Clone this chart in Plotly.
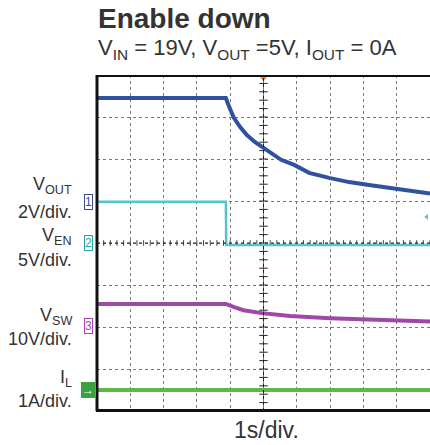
import plotly.graph_objects as go

# time in divisions (1 s/div), values in divisions
vout_t = [0.0, 3.87, 3.95, 4.11, 4.30, 4.50, 4.75, 5.02, 5.25, 5.53, 5.92, 6.37, 6.97, 7.57, 8.17, 8.77, 9.37, 10.0]
vout_v = [3.45, 3.45, 3.28, 2.98, 2.76, 2.57, 2.40, 2.26, 2.12, 1.98, 1.86, 1.67, 1.55, 1.45, 1.38, 1.31, 1.24, 1.18]

ven_t = [0.0, 3.87, 3.88, 10.0]
ven_v = [0.98, 0.98, -0.05, -0.05]

vsw_t = [0.0, 3.87, 4.1, 4.4, 4.95, 5.8, 7.0, 8.5, 10.0]
vsw_v = [-1.45, -1.45, -1.52, -1.60, -1.67, -1.74, -1.79, -1.83, -1.87]

il_t = [0.0, 10.0]
il_v = [-3.5, -3.5]

labels = [("V<sub>OUT</sub>", 185), ("2V/div.", 212), ("V<sub>EN</sub>", 237), ("5V/div.", 260),
          ("V<sub>SW</sub>", 316), ("10V/div.", 339), ("I<sub>L</sub>", 378), ("1A/div.", 401)]

W, H = 430, 445
L, T, B = 97, 75, 411
PW = 333

def px(x):
    return (x - L) / PW

def py(y):
    return (B - y) / (B - T)

fig = go.Figure()

# center crosshair minor ticks
tick_x = [i * 0.2 for i in range(51)]
tick_y = [-4 + i * 0.2 for i in range(41)]
fig.add_trace(go.Scatter(x=[5] * len(tick_y), y=tick_y, mode="markers",
                         marker=dict(symbol="line-ew", size=6, line=dict(color="#222", width=1)),
                         hoverinfo="skip", showlegend=False))
fig.add_trace(go.Scatter(x=tick_x, y=[0] * len(tick_x), mode="markers",
                         marker=dict(symbol="line-ns", size=4, line=dict(color="#444", width=1)),
                         hoverinfo="skip", showlegend=False))

fig.add_trace(go.Scatter(x=il_t, y=il_v, mode="lines", line=dict(color="#5dba3e", width=4), showlegend=False))
fig.add_trace(go.Scatter(x=vsw_t, y=vsw_v, mode="lines", line=dict(color="#a048a8", width=4), showlegend=False))
fig.add_trace(go.Scatter(x=ven_t, y=ven_v, mode="lines", line=dict(color="#55c5cc", width=2.5), showlegend=False))
fig.add_trace(go.Scatter(x=vout_t, y=vout_v, mode="lines", line=dict(color="#2f52a0", width=4), showlegend=False))

# trigger markers
fig.add_trace(go.Scatter(x=[5], y=[3.93], mode="markers", marker=dict(symbol="triangle-down", size=7, color="#f08a3c"),
                         hoverinfo="skip", showlegend=False, cliponaxis=False))
fig.add_trace(go.Scatter(x=[9.9], y=[0.62], mode="markers", marker=dict(symbol="triangle-left", size=5, color="#55c5cc"),
                         hoverinfo="skip", showlegend=False))

shapes = [
    dict(type="line", xref="x", yref="y", x0=5, x1=5, y0=-4, y1=4, line=dict(color="#222", width=1, dash="dot")),
    dict(type="line", xref="x", yref="y", x0=0, x1=10, y0=0, y1=0, line=dict(color="#222", width=1, dash="dot")),
    dict(type="line", xref="paper", yref="paper", x0=px(97), x1=px(97), y0=py(411), y1=py(75), line=dict(color="#111", width=3)),
    dict(type="line", xref="paper", yref="paper", x0=px(96), x1=1.01, y0=py(76), y1=py(76), line=dict(color="#111", width=2)),
    dict(type="line", xref="paper", yref="paper", x0=px(96), x1=1.01, y0=py(410.5), y1=py(410.5), line=dict(color="#111", width=3)),
]

annotations = [
    dict(text="<b>Enable down</b>", x=96, y=19, xref="paper", yref="paper", showarrow=False,
         font=dict(size=28, color="#333", family="Liberation Sans, Arial"), xanchor="left", yanchor="middle"),
    dict(text="V<sub>IN</sub> = 19V, V<sub>OUT</sub> =5V, I<sub>OUT</sub> = 0A", x=96, y=49, xref="paper", yref="paper",
         showarrow=False, font=dict(size=22, color="#333", family="Liberation Sans, Arial"), xanchor="left", yanchor="middle"),
    dict(text="1s/div.", x=266, y=430, xref="paper", yref="paper", showarrow=False,
         font=dict(size=23, color="#333", family="Liberation Sans, Arial"), xanchor="center", yanchor="middle"),
]
for a in annotations:
    a["x"] = px(a["x"])
    a["y"] = py(a["y"])

for text, yy in labels:
    annotations.append(dict(text=text, x=px(74), y=py(yy), xref="paper", yref="paper", showarrow=False,
                            font=dict(size=18, color="#333", family="Liberation Sans, Arial"),
                            xanchor="right", yanchor="middle"))

# channel markers
chans = [("1", 202, "#3a4a8a", "white"), ("2", 243, "#2aa0a8", "white"), ("3", 326, "#a048a8", "white"), ("→", 390, "white", "#3aa040")]
for txt, yy, fc, bg in chans:
    annotations.append(dict(text=txt, x=px(88), y=py(yy), xref="paper", yref="paper", showarrow=False,
                            font=dict(size=12, color=fc, family="Liberation Sans, Arial"),
                            bordercolor=fc if bg == "white" else bg, borderwidth=1, borderpad=0, bgcolor=bg,
                            xanchor="center", yanchor="middle"))

fig.update_layout(
    width=W, height=H,
    margin=dict(l=L, r=0, t=T, b=H - B),
    paper_bgcolor="white", plot_bgcolor="white",
    xaxis=dict(range=[0, 10], dtick=1, showgrid=True, gridcolor="#777", griddash="dot", gridwidth=1,
               showticklabels=False, zeroline=False, showline=False, ticks=""),
    yaxis=dict(range=[-4, 4], dtick=1, showgrid=True, gridcolor="#777", griddash="dot", gridwidth=1,
               showticklabels=False, zeroline=False, showline=False, ticks=""),
    shapes=shapes, annotations=annotations,
)

fig.write_html("out.html", config={"displayModeBar": False},
               post_script="document.body.style.margin='0';document.body.style.overflow='hidden';")
